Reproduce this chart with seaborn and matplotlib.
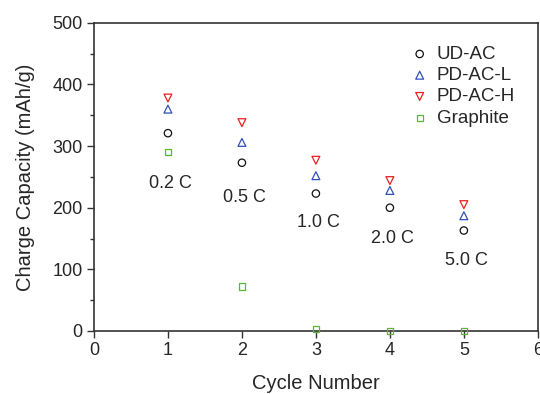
import matplotlib
matplotlib.use('Agg')
import matplotlib.pyplot as plt
import seaborn as sns
from matplotlib.ticker import MultipleLocator

# Data
cycles = [1, 2, 3, 4, 5]
ud_ac = [321, 273, 223, 200, 163]
pd_ac_l = [360, 306, 252, 228, 187]
pd_ac_h = [378, 338, 277, 244, 205]
graphite = [290, 72, 3, 0, 0]

rate_labels = ['0.2 C', '0.5 C', '1.0 C', '2.0 C', '5.0 C']
rate_label_y = [240, 216, 176, 150, 114]

series = [
    ('UD-AC', ud_ac, 'o', '#111111', 28),
    ('PD-AC-L', pd_ac_l, '^', '#3050b8', 32),
    ('PD-AC-H', pd_ac_h, 'v', '#e82020', 32),
    ('Graphite', graphite, 's', '#5cb830', 20),
]

sns.set_style('ticks')
plt.rcParams['font.family'] = ['Liberation Sans', 'DejaVu Sans']

fig = plt.figure(figsize=(5.4, 3.94), dpi=100)
ax = fig.add_axes([0.174, 0.160, 0.822, 0.782])

for name, vals, m, c, s in series:
    sns.scatterplot(x=cycles, y=vals, ax=ax, marker=m, s=s,
                    facecolors='none', edgecolor=c, linewidth=0.9,
                    label=name, clip_on=False, zorder=3)

for x, y, t in zip(cycles, rate_label_y, rate_labels):
    ax.text(x + 0.03, y, t, ha='center', va='center', fontsize=13)

ax.set_xlim(0, 6)
ax.set_ylim(0, 500)
ax.xaxis.set_major_locator(MultipleLocator(1))
ax.yaxis.set_major_locator(MultipleLocator(100))
ax.yaxis.set_minor_locator(MultipleLocator(50))
ax.tick_params(axis='both', which='major', labelsize=13, length=5, width=1,
               direction='out', color='#333333', pad=3)
ax.tick_params(axis='y', which='minor', length=3, width=1, direction='out', color='#333333')
for sp in ax.spines.values():
    sp.set_visible(True)
    sp.set_color('#333333')
    sp.set_linewidth(1.2)

ax.set_xlabel('Cycle Number', fontsize=14.5, labelpad=11)
ax.set_ylabel('Charge Capacity (mAh/g)', fontsize=14.5, labelpad=13)

leg = ax.legend(loc='upper right', frameon=False, fontsize=13.5,
                handlelength=1.0, handletextpad=0.4, labelspacing=0.22,
                borderaxespad=0.0, bbox_to_anchor=(0.965, 0.95))

fig.savefig('out.png', dpi=100)
